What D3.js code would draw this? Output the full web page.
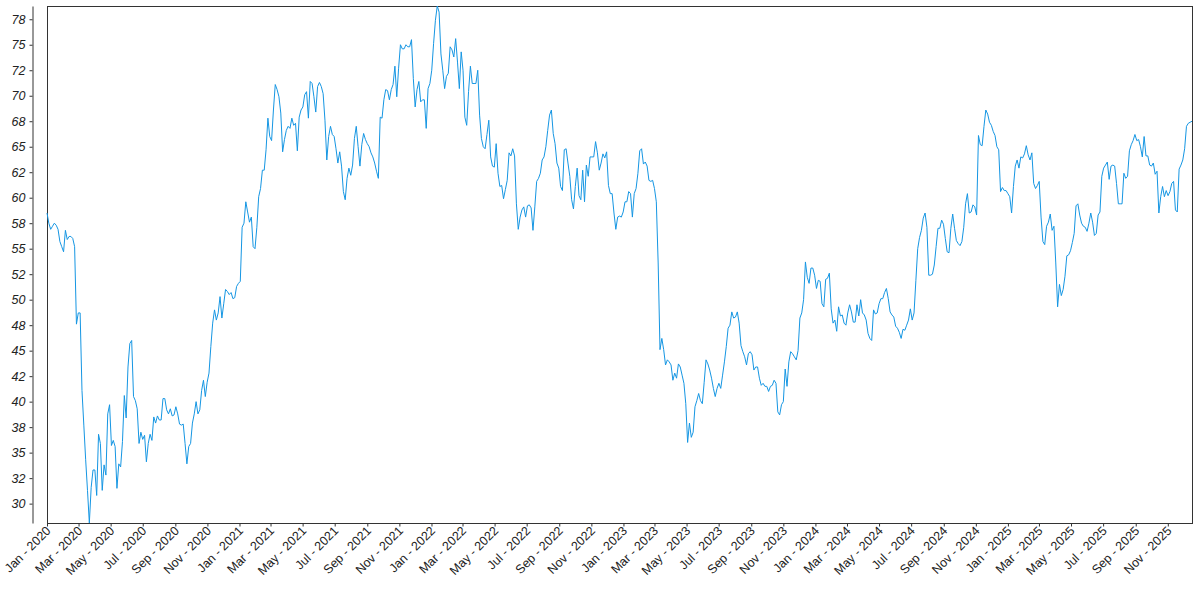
<!DOCTYPE html>
<html><head><meta charset="utf-8">
<script src="https://cdn.jsdelivr.net/npm/d3@7"></script>
<style>
body{margin:0;background:#fff}
svg{display:block}
text{font-family:"Liberation Sans",Arial,sans-serif}
</style>
</head><body>
<svg id="chart" width="1200" height="600"></svg>
<script>
// ---- data: readings every half week (84 hours) starting at startDate ----
const startDate = "2020-01-01";
const stepHours = 84;
const values2020 = [58.5,57.5,56.9,57.2,57.5,57.3,56.9,55.7,55.2,54.7,56.8,55.9,56.2,56.2,56.0,55.2,47.6,48.7,48.7,41.1,37.7,34.3,31.3,28.1,31.6,33.3,33.3,30.8,36.8,35.9,31.3,33.8,32.8,38.8,39.7,35.7,36.2,35.6,31.5,33.9,33.6,36.1,40.6,38.4,43.4,45.7,46.0,40.5,40.1,39.3,35.9,37.0,36.3,36.7,34.1,35.9,36.8,36.2,38.5,37.9,38.6,38.2,38.2,40.3,40.3,39.2,38.8,39.3,38.6,38.7,39.5,38.8,37.8,37.7,37.8,35.9,33.9,35.6,35.9,37.9,38.8,40.0,38.8,39.2,41.1,42.1,40.5,41.9,42.8,45.4,47.7,49.0,48.0,48.7,50.3,48.2,49.6,51.0,50.8,50.5,50.7,50.1,50.2,51.3,51.6,51.8];
const values2021 = [57.1,57.5,59.6,58.6,57.6,58.1,55.2,55.0,57.1,60.1,60.9,62.7,62.7,64.7,67.8,66.0,65.6,68.6,71.1,70.6,69.9,68.3,64.5,65.7,66.6,67.0,66.8,67.8,67.1,67.3,64.6,67.9,68.6,68.9,70.1,70.4,67.8,71.4,71.2,69.9,68.4,70.9,71.3,70.9,70.2,67.6,63.7,66.0,67.0,66.2,66.0,64.8,63.4,64.5,63.1,60.6,59.8,61.9,62.9,62.2,63.2,65.8,67.0,65.0,63.1,65.2,66.3,65.7,65.3,65.0,64.4,64.0,63.4,62.6,61.9,67.9,67.8,69.6,70.6,70.5,69.6,70.6,71.1,72.9,69.9,72.7,75.0,74.6,74.6,75.0,74.8,74.8,75.5,71.7,68.9,70.6,71.4,69.4,69.6,69.6,66.8,70.7,71.2,72.5];
const values2022 = [75.1,77.4,78.8,78.2,74.1,72.5,70.7,71.9,72.2,74.8,74.5,73.8,75.6,73.3,70.7,74.3,72.5,67.9,67.1,70.4,72.9,71.2,71.2,71.2,72.5,68.1,65.8,65.0,64.8,66.2,67.6,64.0,63.1,63.0,65.3,62.4,61.1,61.2,59.9,60.8,61.7,64.4,64.1,64.8,64.1,59.4,56.9,58.1,58.8,59.1,58.1,59.2,59.3,59.0,56.8,59.1,61.6,61.9,62.4,63.7,64.0,65.0,66.6,68.1,68.6,66.3,65.3,63.4,62.9,61.1,60.7,64.7,64.8,63.4,62.1,59.8,58.9,61.1,62.9,60.2,59.8,62.7,59.6,63.2,62.1,64.0,64.0,64.0,65.5,64.4,62.7,63.4,64.3,63.9,64.5,61.2,60.4,60.4,58.5,56.9,58.1,58.2,58.1,58.6];
const values2023 = [59.6,59.6,60.6,60.4,58.1,60.4,60.9,62.4,64.6,64.8,63.3,63.5,63.1,61.7,61.6,61.7,60.9,59.6,53.6,45.1,46.2,45.1,43.6,44.1,43.9,43.6,42.1,42.8,42.3,43.7,43.4,42.6,41.8,39.8,36.0,37.9,36.5,37.0,39.5,40.1,40.8,40.1,39.8,41.9,44.1,43.7,43.1,42.3,41.3,40.5,41.3,41.8,41.3,42.6,43.9,45.4,47.2,47.5,48.8,48.2,48.3,48.8,47.7,45.5,44.9,44.4,43.6,44.7,44.9,44.6,43.1,43.4,43.4,42.3,41.6,41.8,41.5,41.5,41.0,41.5,41.6,42.1,41.8,39.0,38.7,39.7,40.0,43.2,41.5,43.9,44.9,44.7,44.4,44.1,45.0,48.2,48.7,50.0,53.7,52.2,51.6,53.1,53.1,52.4];
const values2024 = [51.1,51.9,51.8,49.6,49.3,52.0,52.1,52.6,49.1,47.7,48.0,46.9,49.3,48.4,48.5,47.7,47.5,48.7,49.5,48.8,47.8,47.8,49.5,48.4,50.0,48.7,48.5,48.0,46.7,46.2,46.0,49.0,48.6,48.7,49.6,50.1,50.1,50.7,51.1,50.1,48.8,48.5,48.3,47.4,47.2,46.8,46.2,47.1,47.0,47.5,48.0,49.1,48.0,48.7,51.9,55.0,56.1,56.8,58.0,58.5,57.1,52.4,52.4,52.5,53.4,55.2,57.0,57.0,57.8,57.4,56.0,54.7,54.6,57.0,58.4,57.0,55.8,55.5,55.3,55.7,57.1,59.4,60.4,58.5,58.6,59.3,59.1,58.3,66.1,65.2,65.1,67.0,68.6,68.2,67.4,67.1,66.5,66.1,65.0,64.7,60.6,61.0,60.7,60.7];
const values2025 = [60.4,60.1,58.5,61.1,63.1,63.7,62.9,64.0,63.9,64.3,65.1,64.2,63.7,64.4,61.4,60.9,61.2,61.6,58.1,55.7,55.4,57.2,57.6,58.4,56.8,57.2,53.6,49.3,51.5,50.4,51.0,52.3,54.3,54.4,54.8,55.6,56.5,59.2,59.4,58.3,57.5,57.2,57.1,56.7,57.5,58.5,57.6,56.3,56.5,58.3,58.6,62.1,62.9,63.2,63.5,61.8,63.1,63.2,63.1,61.4,59.4,59.4,59.4,62.4,61.9,62.1,64.6,65.2,65.6,66.2,65.6,65.7,65.0,64.0,66.0,64.1,64.1,63.2,63.1,63.4,62.3,62.6,58.5,60.1,61.1,60.1,60.7,60.2,60.6,61.4,61.6,58.8,58.6,62.8,63.2,63.7,64.8,67.0,67.3,67.4,67.5];

const yTickValues = [30,32.5,35,37.5,40,42.5,45,47.5,50,52.5,55,57.5,60,62.5,65,67.5,70,72.5,75,77.5];
const yTickLabels = ["30","32","35","38","40","42","45","48","50","52","55","58","60","62","65","68","70","72","75","78"];
const xTickStart = "2020-01-01";
const xTickEnd = "2025-12-01";
const xTickEveryMonths = 2;

// ---- build ----
const values = [].concat(values2020, values2021, values2022, values2023, values2024, values2025);
const parse = d3.utcParse("%Y-%m-%d");
const t0 = parse(startDate);
const data = values.map((v, i) => ({date: d3.utcHour.offset(t0, i * stepHours), value: v}));

const mLeft = 47, mRight = 1192, mTop = 6, mBottom = 523, yAxisX = 32;
const svg = d3.select("#chart");

const x = d3.scaleUtc().domain(d3.extent(data, d => d.date)).range([mLeft, mRight]);
const y = d3.scaleLinear().domain(d3.extent(data, d => d.value)).range([mBottom, mTop]);

const xTicks = d3.utcMonth.every(xTickEveryMonths).range(parse(xTickStart), d3.utcDay.offset(parse(xTickEnd), 1));

// frame
svg.append("rect")
  .attr("x", mLeft + 0.5).attr("y", mTop + 0.5)
  .attr("width", mRight - mLeft).attr("height", mBottom - mTop)
  .attr("fill", "none").attr("stroke", "#333").attr("stroke-width", 1);

// y axis (detached spine)
const yAxis = svg.append("g")
  .attr("transform", `translate(${yAxisX + 0.5},0)`)
  .call(d3.axisLeft(y).tickValues(yTickValues).tickFormat((d, i) => yTickLabels[i]).tickSize(3).tickSizeOuter(0).tickPadding(4));
yAxis.select(".domain").attr("stroke", "#333");
yAxis.selectAll(".tick line").attr("stroke", "#333");
yAxis.selectAll(".tick text")
  .attr("fill", "#222").style("font-size", "12.5px").style("font-style", "italic");

// x axis
const xAxis = svg.append("g")
  .attr("transform", `translate(0,${mBottom + 0.5})`)
  .call(d3.axisBottom(x).tickValues(xTicks).tickFormat(d3.utcFormat("%b - %Y")).tickSize(3).tickSizeOuter(0));
xAxis.select(".domain").remove();
xAxis.selectAll(".tick line").attr("stroke", "#333");
xAxis.selectAll(".tick text")
  .attr("fill", "#222").style("font-size", "12.5px")
  .attr("text-anchor", "end")
  .attr("dy", null).attr("y", 0)
  .attr("transform", "translate(4,8) rotate(-45)");

// line
svg.append("path")
  .datum(data)
  .attr("fill", "none")
  .attr("stroke", "#1596e3")
  .attr("stroke-width", 1)
  .attr("d", d3.line().x(d => x(d.date)).y(d => y(d.value)));
</script>
</body></html>
